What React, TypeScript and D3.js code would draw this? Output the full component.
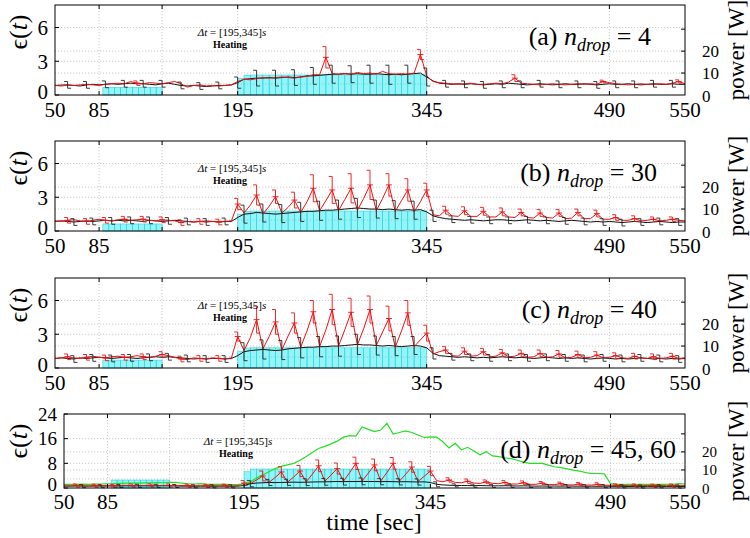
import React from "react";
import * as d3 from "d3";

// ---------- data (5-second grid, 50..550 s) ----------
const timeGrid: number[] = d3.range(50, 551, 5);
const xTickLabels = [50, 85, 195, 345, 490, 550];
const xGridTimes = [85, 135, 195, 345, 490];

// panel (a) n_drop = 4
const blackA = [
  0.85, 0.88, 0.9, 0.85, 0.8, 0.9, 0.95, 0.9, 0.95, 1.0,
  0.95, 1.0, 1.05, 1.0, 1.0, 0.95, 0.9, 1.0, 1.05, 0.95,
  0.85, 0.8, 0.85, 0.8, 0.75, 0.8, 0.85, 0.85, 0.9, 1.1,
  1.4, 1.45, 1.5, 1.5, 1.55, 1.5, 1.55, 1.6, 1.55, 1.6,
  1.7, 1.7, 1.75, 1.8, 1.85, 1.85, 1.9, 1.85, 1.9, 1.85,
  1.85, 1.9, 1.85, 1.8, 1.85, 1.8, 1.85, 1.9, 1.95, 1.6,
  1.25, 1.05, 1.0, 0.95, 1.0, 0.95, 1.0, 0.95, 0.9, 0.95,
  1.0, 0.95, 1.05, 1.0, 0.95, 0.9, 0.95, 1.0, 0.95, 0.9,
  0.95, 1.0, 0.95, 0.95, 1.0, 0.95, 0.9, 0.95, 1.0, 0.95,
  0.95, 1.0, 0.95, 0.9, 0.95, 1.0, 0.95, 0.95, 1.0, 0.95,
  0.95,
];
const redA = [
  0.85, 0.8, 0.88, 0.85, 0.9, 0.95, 0.9, 0.85, 0.95, 1.0,
  1.05, 1.0, 1.2, 1.05, 1.0, 1.1, 1.05, 1.0, 1.1, 1.2,
  1.0, 0.7, 0.85, 0.9, 0.8, 0.85, 0.8, 0.85, 0.9, 1.2,
  1.4, 1.35, 1.45, 1.55, 1.5, 1.55, 1.6, 1.55, 1.5, 1.6,
  1.65, 1.8, 1.8, 3.35, 1.9, 1.85, 1.9, 1.85, 2.0, 1.9,
  1.95, 1.85, 2.1, 1.9, 1.85, 1.9, 1.85, 1.95, 3.6, 1.7,
  1.2, 1.1, 1.05, 1.0, 0.95, 1.0, 1.05, 0.95, 0.95, 1.0,
  1.05, 1.0, 1.15, 1.5, 1.05, 1.0, 0.95, 0.9, 0.95, 1.0,
  0.95, 0.9, 0.95, 1.0, 0.95, 1.0, 0.95, 1.2, 1.1, 1.0,
  0.95, 0.9, 0.95, 1.0, 0.95, 0.95, 1.0, 0.95, 1.05, 1.2,
  1.0,
];
const blackErrA = [
  0.3, 0.3, 0.3, 0.3, 0.3, 0.3, 0.3, 0.3, 0.3, 0.5,
  0.7, 0.7, 0.7, 0.75, 0.8, 0.75, 0.8, 0.85, 0.8, 0.8,
  0.3, 0.3, 0.3, 0.3, 0.3, 0.3, 0.3, 0.3, 0.3, 0.3, 0.3, 0.3, 0.3,
];
const redErrTimesA = [115, 265, 340, 415, 485, 545];
const redErrA = [0.2, 0.95, 0.45, 0.3, 0.12, 0.15];
const powerLowA = [3.4, 3.5, 3.5, 3.5, 3.5, 3.5, 3.5, 3.5, 3.5, 3.4];
const powerHeatA = [
  7.5, 9.0, 9.1, 9.1, 9.1, 9.1, 9.1, 9.1, 9.1, 9.1,
  9.1, 9.1, 9.1, 9.2, 9.2, 9.2, 9.2, 9.2, 9.2, 9.2,
  9.2, 9.2, 9.2, 9.2, 9.2, 9.2, 9.2, 9.2, 9.2, 9.2,
];

// panel (b) n_drop = 30
const blackB = [
  0.85, 0.9, 0.85, 0.8, 0.85, 0.9, 0.85, 0.9, 0.95, 0.9,
  0.95, 0.9, 0.95, 0.9, 0.85, 0.95, 0.9, 0.85, 0.9, 0.95,
  0.9, 0.85, 0.8, 0.85, 0.8, 0.85, 0.8, 0.85, 0.85, 1.2,
  1.5, 1.55, 1.65, 1.6, 1.55, 1.5, 1.55, 1.6, 1.65, 1.7,
  1.75, 1.75, 1.8, 1.85, 1.85, 1.9, 1.95, 2.0, 2.05, 2.0,
  1.95, 1.95, 1.9, 1.95, 1.9, 1.85, 1.9, 1.85, 1.9, 1.7,
  1.35, 1.2, 1.1, 1.05, 1.0, 0.95, 1.0, 0.95, 0.9, 0.95,
  1.0, 1.0, 0.95, 0.9, 0.95, 1.0, 0.95, 0.9, 0.95, 0.9,
  0.85, 0.9, 0.95, 0.9, 0.85, 0.8, 0.85, 0.8, 0.85, 0.8,
  0.75, 0.8, 0.85, 0.8, 0.75, 0.8, 0.85, 0.8, 0.75, 0.8,
  0.8,
];
const redB = [
  0.9, 0.85, 0.95, 1.0, 0.9, 0.85, 0.95, 1.05, 0.95, 0.9,
  1.0, 1.05, 0.95, 1.0, 1.05, 0.95, 0.9, 1.0, 0.95, 0.9,
  0.75, 0.85, 0.8, 0.85, 0.9, 0.85, 0.8, 0.85, 0.9, 2.4,
  1.6, 2.3, 3.2, 1.5, 2.2, 3.05, 1.6, 2.1, 2.75, 1.65,
  2.6, 3.8, 1.8, 2.7, 3.65, 1.8, 2.8, 3.8, 1.85, 2.9,
  4.1, 1.8, 2.9, 4.1, 1.75, 2.7, 3.65, 1.7, 2.6, 3.65,
  1.45, 1.35, 1.85, 1.35, 1.3, 1.8, 1.3, 1.3, 1.75, 1.25,
  1.25, 1.7, 1.25, 1.2, 1.65, 1.2, 1.15, 1.6, 1.2, 1.15,
  1.6, 1.1, 1.15, 1.65, 1.1, 1.1, 1.55, 1.05, 1.05, 1.2,
  0.95, 0.95, 1.1, 0.9, 0.95, 1.05, 0.9, 0.95, 1.05, 0.95,
  0.9,
];
const blackErrB = [
  0.3, 0.3, 0.3, 0.3, 0.3, 0.3, 0.3, 0.3, 0.3,
  0.8, 0.8, 0.8, 0.85, 0.85, 0.85, 0.85, 0.8, 0.8, 0.8,
  0.5,
  0.3, 0.3, 0.3, 0.3, 0.3, 0.3, 0.3, 0.3, 0.3, 0.3, 0.3, 0.3, 0.3,
];
const redErrB = [
  0.25, 0.25, 0.25, 0.25, 0.25, 0.25, 0.25, 0.25, 0.25, 0.5,
  0.9, 0.6, 0.7, 1.2, 1.2, 1.3, 1.3, 1.0, 1.0, 0.6,
  0.35, 0.35, 0.35, 0.35, 0.3, 0.3, 0.3, 0.3, 0.3, 0.25, 0.25, 0.2, 0.2,
];
const powerLowB = [3.2, 3.2, 3.2, 3.2, 3.2, 3.2, 3.2, 3.2, 3.2, 3.2];
const powerHeatB = [
  7.5, 9.0, 9.1, 9.1, 9.1, 9.1, 9.1, 9.1, 9.1, 9.1,
  9.1, 9.1, 9.1, 9.1, 9.1, 9.1, 9.1, 9.1, 9.1, 9.1,
  9.1, 9.1, 9.1, 9.1, 9.1, 9.1, 9.1, 9.1, 9.1, 9.1,
];

// panel (c) n_drop = 40
const blackC = [
  0.85, 0.9, 0.85, 0.8, 0.9, 0.85, 0.9, 0.95, 0.9, 0.85,
  0.9, 0.95, 0.9, 0.85, 0.9, 0.95, 1.0, 0.95, 1.0, 0.95,
  0.9, 0.85, 0.8, 0.85, 0.8, 0.85, 0.85, 0.8, 0.85, 1.1,
  1.45, 1.55, 1.6, 1.65, 1.6, 1.55, 1.6, 1.7, 1.75, 1.8,
  1.85, 1.85, 1.9, 1.9, 1.95, 1.95, 2.0, 2.05, 2.1, 2.05,
  2.05, 2.0, 1.95, 2.0, 1.95, 1.9, 1.95, 2.0, 1.95, 1.8,
  1.3, 1.1, 1.05, 1.0, 0.95, 1.0, 0.95, 0.9, 0.95, 0.9,
  0.95, 1.0, 0.95, 0.9, 0.95, 0.9, 0.85, 0.9, 0.95, 0.9,
  0.85, 0.9, 0.85, 0.9, 0.85, 0.8, 0.85, 0.9, 0.85, 0.8,
  0.85, 0.8, 0.85, 0.9, 0.85, 0.8, 0.85, 0.8, 0.85, 0.8,
  0.85,
];
const redC = [
  0.85, 0.9, 1.0, 0.9, 0.85, 0.95, 1.05, 0.95, 0.9, 1.0,
  1.05, 0.95, 1.0, 1.1, 1.0, 0.95, 1.05, 1.2, 1.1, 0.95,
  0.8, 0.75, 0.9, 0.85, 0.8, 0.9, 0.85, 0.8, 0.9, 2.8,
  1.55, 2.7, 4.3, 1.7, 2.8, 4.1, 1.6, 2.85, 4.0, 1.85,
  3.3, 5.0, 1.9, 3.4, 5.2, 1.95, 3.4, 4.95, 2.05, 3.5,
  5.2, 2.0, 3.2, 4.4, 1.85, 3.3, 4.9, 1.9, 2.5, 3.1,
  1.25, 1.45, 1.6, 1.1, 1.05, 1.5, 1.05, 1.1, 1.45, 1.0,
  1.05, 1.35, 1.0, 1.05, 1.3, 0.95, 1.0, 1.3, 0.95, 1.0,
  1.25, 0.9, 0.95, 1.2, 0.9, 0.95, 1.15, 0.9, 0.95, 1.1,
  0.9, 0.85, 1.05, 0.9, 0.85, 1.0, 0.85, 0.9, 1.05, 0.85,
  0.9,
];
const blackErrC = [
  0.3, 0.3, 0.3, 0.3, 0.3, 0.3, 0.3, 0.3, 0.3,
  0.8, 0.85, 0.85, 0.9, 0.9, 0.9, 0.9, 0.85, 0.85, 0.8,
  0.5,
  0.3, 0.3, 0.3, 0.3, 0.3, 0.3, 0.3, 0.3, 0.3, 0.3, 0.3, 0.3, 0.3,
];
const redErrC = [
  0.25, 0.25, 0.25, 0.25, 0.25, 0.25, 0.25, 0.25, 0.25, 0.4,
  1.2, 1.1, 0.9, 1.0, 1.35, 1.25, 1.2, 1.1, 1.1, 0.7,
  0.3, 0.3, 0.3, 0.3, 0.3, 0.3, 0.3, 0.3, 0.3, 0.25, 0.25, 0.25, 0.25,
];
const powerLowC = [3.6, 3.6, 3.6, 3.6, 3.6, 3.6, 3.6, 3.6, 3.6, 3.6];
const powerHeatC = [
  7.5, 9.1, 9.2, 9.2, 9.2, 9.2, 9.2, 9.2, 9.2, 9.2,
  9.2, 9.2, 9.2, 9.2, 9.2, 9.2, 9.2, 9.2, 9.2, 9.2,
  9.2, 9.2, 9.2, 9.2, 9.2, 9.2, 9.2, 9.2, 9.2, 9.2,
];

// panel (d) n_drop = 45, 60
const blackD = [
  0.6, 0.6, 0.65, 0.6, 0.6, 0.65, 0.6, 0.65, 0.7, 0.65,
  0.7, 0.65, 0.7, 0.7, 0.65, 0.7, 0.75, 0.7, 0.65, 0.6,
  0.6, 0.55, 0.6, 0.6, 0.55, 0.6, 0.6, 0.55, 0.6, 0.8,
  1.4, 1.6, 1.7, 1.8, 1.75, 1.8, 1.85, 1.9, 1.85, 1.9,
  1.95, 2.0, 2.0, 2.05, 2.1, 2.05, 2.1, 2.1, 2.15, 2.1,
  2.1, 2.05, 2.1, 2.05, 2.0, 2.05, 2.0, 1.95, 2.0, 1.8,
  1.2, 1.0, 0.9, 0.85, 0.8, 0.8, 0.75, 0.8, 0.75, 0.7,
  0.7, 0.75, 0.7, 0.65, 0.7, 0.65, 0.6, 0.65, 0.6, 0.65,
  0.6, 0.65, 0.6, 0.6, 0.55, 0.6, 0.55, 0.6, 0.55, 0.55,
  0.55, 0.5, 0.55, 0.5, 0.55, 0.5, 0.55, 0.5, 0.55, 0.5,
  0.5,
];
const redD = [
  0.7, 0.75, 0.8, 0.75, 0.7, 0.75, 0.8, 0.75, 0.7, 0.8,
  0.85, 0.8, 0.75, 0.8, 0.85, 0.8, 0.75, 0.8, 0.85, 0.8,
  0.75, 0.7, 0.75, 0.7, 0.75, 0.7, 0.75, 0.7, 0.75, 1.6,
  1.4, 2.6, 3.9, 1.8, 3.4, 5.2, 1.9, 3.6, 5.5, 2.0,
  4.5, 7.2, 2.2, 4.2, 6.3, 2.2, 5.0, 8.0, 2.3, 4.8,
  7.5, 2.3, 5.0, 8.0, 2.2, 4.4, 6.8, 2.1, 3.8, 5.5,
  2.4, 2.0, 2.6, 1.8, 1.7, 2.2, 1.6, 1.5, 2.0, 1.5,
  1.4, 1.8, 1.3, 1.3, 1.7, 1.2, 1.2, 1.6, 1.1, 1.1,
  1.4, 1.0, 1.0, 1.3, 0.95, 0.95, 1.2, 0.9, 0.9, 0.85,
  0.8, 0.85, 0.8, 0.75, 0.8, 0.75, 0.8, 0.75, 0.8, 0.75,
  0.75,
];
const greenD = [
  1.2, 1.15, 1.2, 1.25, 1.2, 1.25, 1.3, 1.35, 1.4, 1.5,
  1.55, 1.6, 1.55, 1.65, 1.7, 1.75, 1.7, 1.8, 1.85, 1.55,
  1.35, 1.3, 1.4, 1.2, 1.15, 1.2, 1.15, 1.1, 1.15, 1.3,
  2.0, 3.2, 4.2, 5.3, 6.3, 7.0, 7.5, 8.0, 9.0, 10.2,
  11.5, 12.8, 13.5, 14.3, 15.2, 16.5, 17.0, 16.8, 19.8, 19.0,
  18.3, 18.8, 21.0, 17.5, 18.0, 18.5, 18.0, 17.2, 16.4, 16.6,
  16.5, 15.0, 13.0, 14.5, 12.4, 13.2, 12.0, 10.8, 11.8, 10.4,
  10.2, 9.8, 9.5, 9.0, 8.4, 8.0, 8.0, 8.0, 7.4, 6.9,
  6.6, 6.2, 5.8, 5.5, 5.0, 4.7, 4.7, 4.6, 1.4, 1.2,
  1.15, 1.2, 1.15, 1.2, 1.15, 1.2, 1.15, 1.2, 1.15, 1.4,
  1.3,
];
const blackErrD = [
  0.5, 0.5, 0.5, 0.5, 0.5, 0.5, 0.5, 0.5, 0.5,
  1.0, 1.0, 1.0, 1.1, 1.1, 1.1, 1.1, 1.0, 1.0, 1.0,
  0.8,
  0.5, 0.5, 0.5, 0.5, 0.5, 0.5, 0.5, 0.5, 0.5, 0.5, 0.5, 0.5, 0.5,
];
const redErrD = [
  0.5, 0.5, 0.5, 0.5, 0.5, 0.5, 0.5, 0.5, 0.5, 0.8,
  1.6, 1.7, 1.8, 1.9, 1.8, 2.0, 1.9, 1.9, 1.7, 1.5,
  0.7, 0.7, 0.6, 0.6, 0.6, 0.5, 0.5, 0.5, 0.5, 0.5, 0.5, 0.5, 0.5,
];
const powerLowD = [4.4, 4.4, 4.4, 4.4, 4.4, 4.4, 4.4, 4.4, 4.4, 4.4];
const powerHeatD = [
  9.0, 10.5, 10.5, 10.5, 10.5, 10.5, 10.5, 10.5, 10.5, 10.5,
  10.5, 10.5, 10.5, 10.5, 10.5, 10.5, 10.5, 10.5, 10.5, 10.5,
  10.5, 10.5, 10.5, 10.5, 10.5, 10.5, 10.5, 10.5, 10.5, 10.5,
];

// bar positions (s) and regular error-bar sample times (s)
const lowBarStarts = d3.range(10).map((i) => 88 + i * 4.7);
const lowBarWidth = 4.7;
const heatBarStarts = d3.range(195, 345, 5);
const heatBarWidth = 5;
const errTimes0 = d3.range(60, 541, 15);
const errTimes5 = d3.range(65, 546, 15);

const powerTickLabels = [0, 10, 20];

// ---------- layout ----------
const FONT = "Liberation Serif, DejaVu Serif, serif";
const X_RIGHT = 685;
const POWER_MAX = 41;

type Panel = {
  letter: string;
  n: string;
  black: number[];
  red: number[];
  green?: number[];
  blackErrT: number[];
  blackErr: number[];
  redErrT: number[];
  redErr: number[];
  powerLow: number[];
  powerHeat: number[];
  yMax: number;
  yTicks: number[];
  yGrid: number[];
  powerGrid: number[];
  left: number;
  top: number;
  bottom: number;
  labelEnd: number;
  labelDy: number;
  xLabelDy: number;
  noteX: number;
  powerFont: number;
  yFont: number;
  zeroShift: number;
};

const panels: Panel[] = [
  {
    letter: "a", n: "4", black: blackA, red: redA,
    blackErrT: errTimes0, blackErr: blackErrA, redErrT: redErrTimesA, redErr: redErrA,
    powerLow: powerLowA, powerHeat: powerHeatA,
    yMax: 8, yTicks: [0, 3, 6], yGrid: [3, 6], powerGrid: [5, 10, 20],
    left: 55, top: 5, bottom: 95, labelEnd: 651, labelDy: 40, xLabelDy: 22, noteX: 232,
    powerFont: 17, yFont: 21, zeroShift: 3,
  },
  {
    letter: "b", n: "30", black: blackB, red: redB,
    blackErrT: errTimes5, blackErr: blackErrB, redErrT: errTimes0, redErr: redErrB,
    powerLow: powerLowB, powerHeat: powerHeatB,
    yMax: 8, yTicks: [0, 3, 6], yGrid: [3, 6], powerGrid: [5, 10, 20],
    left: 55, top: 141, bottom: 231, labelEnd: 657, labelDy: 40, xLabelDy: 22, noteX: 232,
    powerFont: 17, yFont: 21, zeroShift: 3,
  },
  {
    letter: "c", n: "40", black: blackC, red: redC,
    blackErrT: errTimes5, blackErr: blackErrC, redErrT: errTimes0, redErr: redErrC,
    powerLow: powerLowC, powerHeat: powerHeatC,
    yMax: 8, yTicks: [0, 3, 6], yGrid: [3, 6], powerGrid: [5, 10, 20],
    left: 55, top: 278, bottom: 368, labelEnd: 657, labelDy: 40, xLabelDy: 22, noteX: 232,
    powerFont: 17, yFont: 21, zeroShift: 3,
  },
  {
    letter: "d", n: "45, 60", black: blackD, red: redD, green: greenD,
    blackErrT: errTimes5, blackErr: blackErrD, redErrT: errTimes0, redErr: redErrD,
    powerLow: powerLowD, powerHeat: powerHeatD,
    yMax: 24, yTicks: [0, 8, 16, 24], yGrid: [8, 16], powerGrid: [5, 10, 20],
    left: 64, top: 414, bottom: 488, labelEnd: 676, labelDy: 44, xLabelDy: 21, noteX: 238,
    powerFont: 15, yFont: 19, zeroShift: 4,
  },
];

const valueAt = (series: number[], t: number) => series[Math.round((t - 50) / 5)];

function errPath(x: number, yTop: number, yBot: number, cw: number) {
  return `M${x - cw},${yTop}H${x}V${yBot}H${x + cw}`;
}

function PanelView({ p }: { p: Panel }) {
  const x = d3.scaleLinear().domain([50, 550]).range([p.left, X_RIGHT]);
  const y = d3.scaleLinear().domain([0, p.yMax]).range([p.bottom, p.top]);
  const yp = d3.scaleLinear().domain([0, POWER_MAX]).range([p.bottom, p.top]);
  const line = d3
    .line<number>()
    .x((_, i) => x(timeGrid[i]))
    .y((v) => y(v));
  const mid = (p.top + p.bottom) / 2;
  const gridStyle = { stroke: "#bdbdbd", strokeWidth: 0.8, strokeDasharray: "1.2,1.8" };
  const cw = 3.5;
  const txt = { fontFamily: FONT };

  return (
    <g>
      {/* grid */}
      {xGridTimes.map((t) => (
        <line key={"vx" + t} x1={x(t)} x2={x(t)} y1={p.top} y2={p.bottom} {...gridStyle} />
      ))}
      {p.yGrid.map((v) => (
        <line key={"gy" + v} x1={p.left} x2={X_RIGHT} y1={y(v)} y2={y(v)} {...gridStyle} />
      ))}
      {p.powerGrid.map((v) => (
        <line key={"gp" + v} x1={p.left} x2={X_RIGHT} y1={yp(v)} y2={yp(v)} {...gridStyle} />
      ))}

      {/* power bars */}
      {lowBarStarts.map((s, i) => (
        <rect
          key={"lb" + i}
          x={x(s)}
          width={x(s + lowBarWidth) - x(s)}
          y={yp(p.powerLow[i])}
          height={p.bottom - yp(p.powerLow[i])}
          fill="#00e8f0"
          fillOpacity={0.42}
          stroke="#35d0de"
          strokeWidth={0.6}
        />
      ))}
      {heatBarStarts.map((s, i) => (
        <rect
          key={"hb" + i}
          x={x(s)}
          width={x(s + heatBarWidth) - x(s)}
          y={yp(p.powerHeat[i])}
          height={p.bottom - yp(p.powerHeat[i])}
          fill="#00e8f0"
          fillOpacity={0.42}
          stroke="#35d0de"
          strokeWidth={0.6}
        />
      ))}

      {/* lines */}
      <path d={line(p.black) || ""} fill="none" stroke="#111" strokeWidth={1} />
      <path d={line(p.red) || ""} fill="none" stroke="#f01010" strokeWidth={1} />
      {p.green && <path d={line(p.green) || ""} fill="none" stroke="#22e022" strokeWidth={1.2} />}

      {/* error bars */}
      {p.blackErrT.map((t, i) => {
        const v = valueAt(p.black, t);
        return (
          <path
            key={"be" + t}
            d={errPath(x(t), y(v + p.blackErr[i]), y(Math.max(0, v - p.blackErr[i])), cw)}
            fill="none"
            stroke="#222"
            strokeWidth={0.9}
          />
        );
      })}
      {p.redErrT.map((t, i) => {
        const v = valueAt(p.red, t);
        return (
          <g key={"re" + t}>
            <path
              d={errPath(x(t), y(v + p.redErr[i]), y(Math.max(0, v - p.redErr[i])), cw)}
              fill="none"
              stroke="#f01010"
              strokeWidth={0.9}
            />
            <line x1={x(t) - 3} x2={x(t) + 3} y1={y(v)} y2={y(v)} stroke="#f01010" strokeWidth={0.9} />
          </g>
        );
      })}

      {/* ticks */}
      {xGridTimes.map((t) => (
        <g key={"xt" + t}>
          <line x1={x(t)} x2={x(t)} y1={p.bottom} y2={p.bottom - 4} stroke="#000" />
          <line x1={x(t)} x2={x(t)} y1={p.top} y2={p.top + 4} stroke="#000" />
        </g>
      ))}
      {p.yTicks.map((v) => (
        <line key={"yt" + v} x1={p.left} x2={p.left + 4} y1={y(v)} y2={y(v)} stroke="#000" />
      ))}
      {[10, 20, 30].map((v) => (
        <line key={"pt" + v} x1={X_RIGHT} x2={X_RIGHT - 4} y1={yp(v)} y2={yp(v)} stroke="#000" />
      ))}

      {/* frame */}
      <rect
        x={p.left}
        y={p.top}
        width={X_RIGHT - p.left}
        height={p.bottom - p.top}
        fill="none"
        stroke="#000"
        strokeWidth={1}
      />

      {/* tick labels */}
      {xTickLabels.map((t) => (
        <text key={"xl" + t} x={x(t)} y={p.bottom + p.xLabelDy} textAnchor="middle" fontSize={21} style={txt}>
          {t}
        </text>
      ))}
      {p.yTicks.map((v) => (
        <text
          key={"yl" + v}
          x={p.left - 7}
          y={y(v) - (v === 0 ? p.zeroShift : 0)}
          dy="0.35em"
          textAnchor="end"
          fontSize={p.yFont}
          style={txt}
        >
          {v}
        </text>
      ))}
      {powerTickLabels.map((v) => (
        <text
          key={"pl" + v}
          x={702}
          y={yp(v) + (v === 0 ? 1 : 0)}
          dy="0.35em"
          textAnchor="start"
          fontSize={p.powerFont}
          style={txt}
        >
          {v}
        </text>
      ))}

      {/* axis titles */}
      <text
        transform={`translate(27,${p.top + 27}) rotate(-90)`}
        textAnchor="middle"
        fontSize={26}
        style={txt}
      >
        ϵ(<tspan fontStyle="italic">t</tspan>)
      </text>
      <text transform={`translate(744,${mid}) rotate(-90)`} textAnchor="middle" fontSize={23} style={txt}>
        power [W]
      </text>

      {/* heating annotation */}
      <text x={p.noteX} y={p.top + 31} textAnchor="middle" fontSize={11} style={txt}>
        <tspan fontStyle="italic">Δt</tspan>
        {" = [195,345]"}
        <tspan fontStyle="italic">s</tspan>
      </text>
      <text
        x={p.noteX - 2}
        y={p.top + 43}
        textAnchor="middle"
        fontSize={10}
        fontWeight="bold"
        style={txt}
      >
        Heating
      </text>

      {/* panel label */}
      <text x={p.labelEnd} y={p.top + p.labelDy} textAnchor="end" fontSize={26} style={txt}>
        {`(${p.letter}) `}
        <tspan fontStyle="italic">n</tspan>
        <tspan fontStyle="italic" fontSize={18} dy={6}>
          drop
        </tspan>
        <tspan dy={-6}>{` = ${p.n}`}</tspan>
      </text>
    </g>
  );
}

export default function App() {
  return (
    <svg
      width={750}
      height={538}
      viewBox="0 0 750 538"
      style={{ position: "absolute", left: 0, top: 0, background: "#fff" }}
    >
      <rect x={0} y={0} width={750} height={538} fill="#fff" />
      {panels.map((p) => (
        <PanelView key={p.letter} p={p} />
      ))}
      <text x={374} y={530} textAnchor="middle" fontSize={24} style={{ fontFamily: FONT }}>
        time [sec]
      </text>
    </svg>
  );
}
